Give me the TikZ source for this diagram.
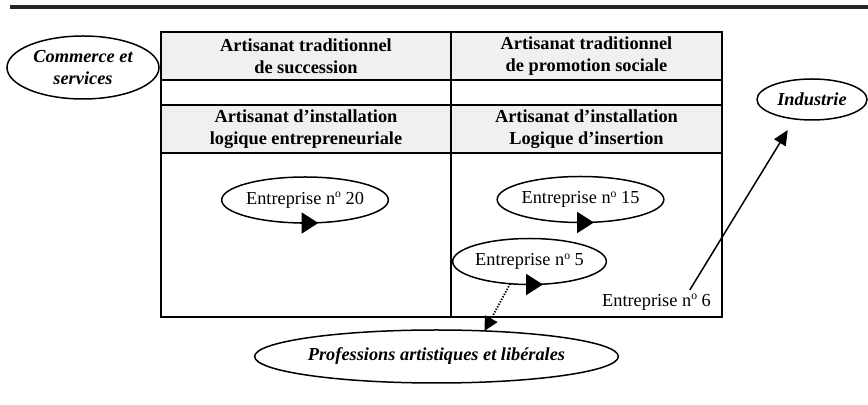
\documentclass[tikz,border=0pt]{standalone}
\usepackage{fontspec}
\setmainfont{Liberation Serif}
\usetikzlibrary{arrows.meta}
\usetikzlibrary{shapes.geometric}
\newcommand{\numero}{n\raisebox{0.75ex}{\fontsize{7}{7}\selectfont o}}

\begin{document}
\begin{tikzpicture}[x=0.6pt,y=-0.6pt,
  >={Triangle[length=9pt,width=8pt]},
  line width=0.9pt,
  sector/.style={ellipse,draw,line width=0.9pt,inner sep=0pt,outer sep=0pt,font=\fontsize{11}{13}\selectfont\bfseries\itshape,align=center},
  firm/.style={ellipse,draw,line width=0.9pt,minimum width=91.2pt,minimum height=27.6pt,inner sep=0pt,outer sep=0pt,font=\fontsize{11}{12}\selectfont},
  head/.style={font=\fontsize{11}{13.2}\selectfont\bfseries,align=center},
  frame/.style={line width=1.4pt},
  rule/.style={line width=1.9pt,black!85},
  looptip/.style={-{Triangle[length=10pt,width=12.6pt]}},
  headfill/.style={fill=black!6}]

  \useasboundingbox (0,0) rectangle (868,405);
  \draw[rule] (10,7) -- (868,7);

  \fill[headfill] (161,32) rectangle (722,80);
  \fill[headfill] (161,105) rectangle (722,153);
  \draw[frame] (161,32) rectangle (722,317);
  \draw[frame] (161,80) -- (722,80) (161,105) -- (722,105) (161,153) -- (722,153) (451,32) -- (451,317);

  \node[head] (succ) at (306,56) {Artisanat traditionnel\\de succession};
  \node[head] (promo) at (586.5,56) {Artisanat traditionnel\\de promotion sociale};
  \node[head] (entre) at (306,129) {Artisanat d’installation\\logique entrepreneuriale};
  \node[head] (inser) at (586.5,129) {Artisanat d’installation\\Logique d’insertion};

  \node[sector,minimum width=91.2pt,minimum height=37.8pt] (com) at (83,67.5) {Commerce et\\services};
  \node[sector,minimum width=66pt,minimum height=24.6pt] (ind) at (812,99.5) {Industrie};
  \node[sector,minimum width=205.8pt,minimum height=31.8pt] (prof) at (436.5,356.5) {Professions artistiques et libérales};

  \node[firm] (e20) at (305,200) {Entreprise \numero{} 20};
  \node[firm] (e15) at (580.5,199.5) {Entreprise \numero{} 15};
  \node[firm] (e5) at (529.5,261.5) {Entreprise \numero{} 5};
  \node[font=\fontsize{11}{12}\selectfont,inner sep=1pt] (e6) at (656.5,302) {Entreprise \numero{} 6};

  \foreach \e in {e20,e15,e5}
    \draw[looptip] ([xshift=-3pt]\e.south) -- ([xshift=8pt]\e.south);

  \draw[line width=1.1pt,dash pattern=on 0.8pt off 0.9pt,-{Triangle[length=8.4pt,width=8.4pt]}] (e5.229) -- (prof.28);
  \draw[->] ([xshift=20pt,yshift=1pt]e6.north) -- (ind.228) [shorten >=7.8pt];
\end{tikzpicture}
\end{document}
